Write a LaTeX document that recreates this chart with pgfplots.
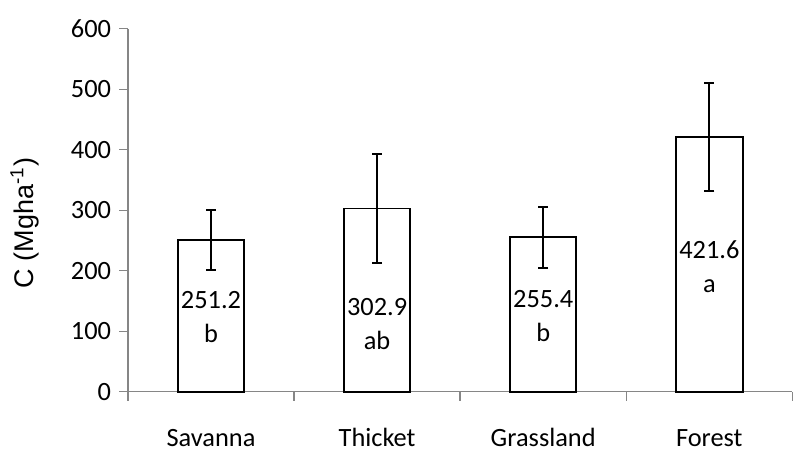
\documentclass[border=0pt]{standalone}
\usepackage{pgfplots}
\pgfplotsset{compat=1.18}
\usepackage{fontspec}
\setmainfont{Carlito}
\newfontfamily\arialfont{Liberation Sans}
\definecolor{axisgray}{RGB}{134,134,134}

% carbon stock per vegetation type: mean and error
\pgfplotstableread{
x  y      err
0  251.2  49.5
1  302.9  90.5
2  255.4  50.5
3  421.6  89.0
}\carbondata

\begin{document}
\begin{tikzpicture}
% fixed canvas around the axis
\path (-64.5pt,-27.5pt) rectangle (335pt,197.5pt);
\begin{axis}[
  at={(0pt,0pt)}, anchor=south west,
  scale only axis, width=335pt, height=183pt,
  xmin=-0.5, xmax=3.5, ymin=0, ymax=600,
  axis x line*=bottom, axis y line*=left,
  axis line style={axisgray, line width=0.7pt},
  ytick={0,100,...,600},
  xtick={-0.5,0.5,1.5,2.5,3.5},
  xticklabels={,,,,},
  extra x ticks={0,1,2,3},
  extra x tick labels={Savanna,Thicket,Grassland,Forest},
  extra x tick style={major tick length=0pt,
    tick label style={anchor=base, yshift=-27.5pt}},
  tick align=outside,
  major tick length=4.5pt,
  tick style={axisgray, line width=0.7pt},
  ticklabel style={font=\fontsize{13.3}{15}\selectfont},
  /pgf/number format/assume math mode=true,
  yticklabel style={anchor=east, xshift=-0.5pt},
  ylabel={\arialfont C (Mgha\textsuperscript{-1})},
  ylabel style={at={(axis description cs:-0.1552,0.465)}, anchor=center,
    font=\fontsize{13.6}{15}\selectfont},
  clip=false,
]
\addplot[ybar, bar width=0.4, fill=white, draw=black, line width=1pt,
  error bars/.cd, y dir=both, y explicit,
  error bar style={line width=1pt, black},
  error mark options={rotate=90, mark size=2.5pt, line width=1pt, black}]
  table[x=x, y=y, y error=err] {\carbondata};
\begin{scope}[every node/.style={align=center, font=\fontsize{13.3}{17}\selectfont}]
\node at (axis cs:0,123) {251.2\\b};
\node at (axis cs:1,112) {302.9\\ab};
\node at (axis cs:2,125) {255.4\\b};
\node at (axis cs:3,207) {421.6\\a};
\end{scope}
\end{axis}
\end{tikzpicture}
\end{document}
